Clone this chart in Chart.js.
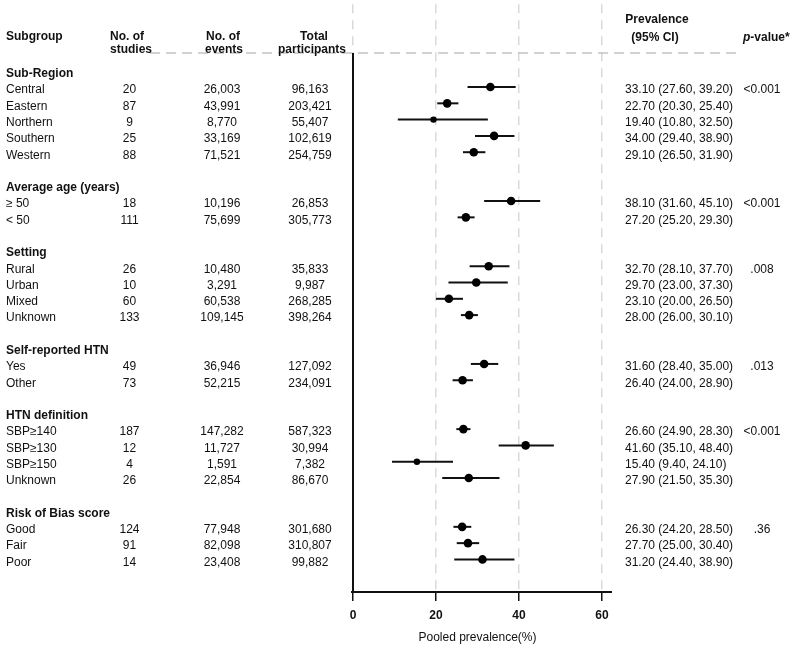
<!DOCTYPE html>
<html>
<head>
<meta charset="utf-8">
<script src="https://cdn.jsdelivr.net/npm/chart.js@4"></script>
<style>
  body { margin: 0; background: #fff; }
  canvas { display: block; }
</style>
</head>
<body>
<canvas id="forest" width="800" height="647"></canvas>
<script>
// groups and rows of the table
const groupNames = ['Sub-Region', 'Average age (years)', 'Setting', 'Self-reported HTN', 'HTN definition', 'Risk of Bias score'];
const groupSizes = [5, 2, 4, 2, 4, 3];
const pValues = ['<0.001', '<0.001', '.008', '.013', '<0.001', '.36'];

const categories = ['Central', 'Eastern', 'Northern', 'Southern', 'Western',
    '\u2265 50', '< 50',
    'Rural', 'Urban', 'Mixed', 'Unknown',
    'Yes', 'Other',
    'SBP\u2265140', 'SBP\u2265130', 'SBP\u2265150', 'Unknown',
    'Good', 'Fair', 'Poor'];
const studies = [20, 87, 9, 25, 88, 18, 111, 26, 10, 60, 133, 49, 73, 187, 12, 4, 26, 124, 91, 14];
const events = [26003, 43991, 8770, 33169, 71521, 10196, 75699, 10480, 3291, 60538, 109145, 36946, 52215, 147282, 11727, 1591, 22854, 77948, 82098, 23408];
const participants = [96163, 203421, 55407, 102619, 254759, 26853, 305773, 35833, 9987, 268285, 398264, 127092, 234091, 587323, 30994, 7382, 86670, 301680, 310807, 99882];
const prevalence = [33.1, 22.7, 19.4, 34.0, 29.1, 38.1, 27.2, 32.7, 29.7, 23.1, 28.0, 31.6, 26.4, 26.6, 41.6, 15.4, 27.9, 26.3, 27.7, 31.2];
const ciLow = [27.6, 20.3, 10.8, 29.4, 26.5, 31.6, 25.2, 28.1, 23.0, 20.0, 26.0, 28.4, 24.0, 24.9, 35.1, 9.4, 21.5, 24.2, 25.0, 24.4];
const ciHigh = [39.2, 25.4, 32.5, 38.9, 31.9, 45.1, 29.3, 37.7, 37.3, 26.5, 30.1, 35.0, 28.9, 28.3, 48.4, 24.1, 35.3, 28.5, 30.4, 38.9];
const xTicks = [0, 20, 40, 60];

const FONT = "'Liberation Sans', Arial, sans-serif";

// row index for each group header and each subgroup (blank row between groups)
let headerRows = [];
let itemRows = [];
let r = 0;
groupSizes.forEach((n) => {
    headerRows.push(r);
    for (let i = 1; i <= n; i++) itemRows.push(r + i);
    r += n + 2;
});

const points = prevalence.map((p, i) => ({ x: p, y: itemRows[i] }));

function fmt(n) { return n.toLocaleString('en-US'); }

const tablePlugin = {
    id: 'table',
    beforeDatasetsDraw(chart) {
        const ctx = chart.ctx;
        const xs = chart.scales.x, ys = chart.scales.y;
        const area = chart.chartArea;
        ctx.save();
        // header dashed rule
        ctx.strokeStyle = '#c4c4c4';
        ctx.lineWidth = 1.5;
        ctx.setLineDash([10, 6]);
        ctx.beginPath();
        ctx.moveTo(150, 53);
        ctx.lineTo(742, 53);
        ctx.stroke();
        ctx.setLineDash([]);
        // axis lines
        ctx.strokeStyle = '#111';
        ctx.lineWidth = 2;
        ctx.beginPath();
        ctx.moveTo(area.left, 53);
        ctx.lineTo(area.left, area.bottom);
        ctx.moveTo(area.left - 2, area.bottom);
        ctx.lineTo(area.right + 10, area.bottom);
        ctx.stroke();
        // confidence intervals
        ctx.lineWidth = 2;
        points.forEach((p, i) => {
            const y = ys.getPixelForValue(p.y);
            ctx.beginPath();
            ctx.moveTo(xs.getPixelForValue(ciLow[i]), y);
            ctx.lineTo(xs.getPixelForValue(ciHigh[i]), y);
            ctx.stroke();
        });
        ctx.restore();
    },
    afterDraw(chart) {
        const ctx = chart.ctx;
        const ys = chart.scales.y;
        ctx.save();
        ctx.fillStyle = '#111';
        ctx.textBaseline = 'middle';

        // column headers
        ctx.font = 'bold 12px ' + FONT;
        ctx.textAlign = 'left';
        ctx.fillText('Subgroup', 6, 37);
        ctx.fillText('No. of', 110, 37);
        ctx.fillText('studies', 110, 50);
        ctx.fillText('No. of', 206, 37);
        ctx.fillText('events', 205, 50);
        ctx.textAlign = 'center';
        ctx.fillText('Total', 314, 37);
        ctx.fillText('participants', 312, 50);
        ctx.fillText('Prevalence', 657, 20);
        ctx.fillText('(95% CI)', 655, 38);
        ctx.textAlign = 'left';
        ctx.font = 'italic bold 12px ' + FONT;
        const pw = ctx.measureText('p').width;
        ctx.fillText('p', 743, 38);
        ctx.font = 'bold 12px ' + FONT;
        ctx.fillText('-value*', 743 + pw, 38);

        // group headers and p-values
        headerRows.forEach((row, g) => {
            const y = ys.getPixelForValue(row) + 3;
            ctx.font = 'bold 12px ' + FONT;
            ctx.textAlign = 'left';
            ctx.fillText(groupNames[g], 6, y);
            const y1 = ys.getPixelForValue(row + 1) + 3;
            ctx.font = '12px ' + FONT;
            ctx.textAlign = 'center';
            ctx.fillText(pValues[g], 762, y1);
        });

        // subgroup rows
        ctx.font = '12px ' + FONT;
        categories.forEach((c, i) => {
            const y = ys.getPixelForValue(itemRows[i]) + 3;
            ctx.textAlign = 'left';
            ctx.fillText(c, 6, y);
            ctx.fillText(prevalence[i].toFixed(2) + ' (' + ciLow[i].toFixed(2) + ', ' + ciHigh[i].toFixed(2) + ')', 625, y);
            ctx.textAlign = 'center';
            ctx.fillText(String(studies[i]), 129.5, y);
            ctx.fillText(fmt(events[i]), 222, y);
            ctx.fillText(fmt(participants[i]), 310, y);
        });
        ctx.restore();
    }
};

new Chart(document.getElementById('forest'), {
    type: 'scatter',
    data: {
        datasets: [{
            data: points,
            backgroundColor: '#000',
            borderWidth: 0,
            pointStyle: 'circle',
            pointRadius: studies.map((s) => (s < 10 ? 3.2 : 4.3))
        }]
    },
    options: {
        responsive: false,
        animation: false,
        layout: { padding: { left: 353, right: 198, top: 0, bottom: 0 } },
        plugins: {
            legend: { display: false },
            tooltip: { enabled: false }
        },
        scales: {
            x: {
                type: 'linear',
                min: 0,
                max: 60,
                afterBuildTicks: (s) => { s.ticks = xTicks.map((v) => ({ value: v })); },
                afterFit: (s) => { s.height = 55; },
                ticks: {
                    color: '#111',
                    padding: 7,
                    font: { family: FONT, size: 12, weight: 'bold' }
                },
                grid: {
                    color: '#dadada',
                    lineWidth: 1.5,
                    tickColor: '#111',
                    tickLength: 9,
                    tickWidth: 1.5,
                    tickBorderDash: []
                },
                border: { display: false, dash: [9, 7] },
                title: {
                    display: true,
                    text: 'Pooled prevalence(%)',
                    color: '#111',
                    font: { family: FONT, size: 12 },
                    padding: { top: 4, bottom: 2 }
                }
            },
            y: {
                type: 'linear',
                display: false,
                reverse: true,
                min: -4.08,
                max: 32.0
            }
        }
    },
    plugins: [tablePlugin]
});
</script>
</body>
</html>
